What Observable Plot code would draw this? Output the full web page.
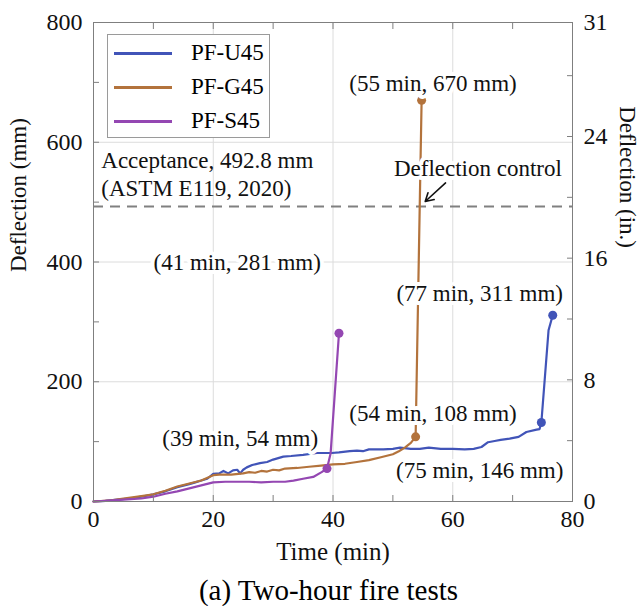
<!DOCTYPE html>
<html><head><meta charset="utf-8">
<script src="https://cdn.jsdelivr.net/npm/d3@7"></script>
<script src="https://cdn.jsdelivr.net/npm/@observablehq/plot@0.6"></script>
<style>
body{margin:0;background:#fff;font-family:"Liberation Serif","Times New Roman",serif;}
#wrap{position:relative;width:643px;}
#caption{font-size:29px;line-height:31px;height:31px;text-align:center;padding-left:14px;}
#legend{position:absolute;left:107px;top:34px;width:163px;height:104px;border:1px solid #9a9a9a;background:#fff;box-sizing:border-box;}
.row{position:absolute;left:0;height:30px;font-size:23px;line-height:30px;}
.sw{position:absolute;left:6px;top:14px;width:58px;height:3px;}
.lbl{position:absolute;left:83px;top:0;white-space:nowrap;}
</style></head>
<body>
<div id="wrap"><div id="chart"></div><div id="legend"></div></div>
<div id="caption">(a) Two-hour fire tests</div>
<script>
// ---- data ----
const seriesNames = ["PF-U45", "PF-G45", "PF-S45"];
const seriesColors = ["#4154b8", "#b3733c", "#9447b2"];

const tU45 = [0,2,4,6,8,10,12,14,16,17,18,19,20,21,21.7,22.5,23.3,24,24.5,25,25.6,26.5,27.8,29,30,31.7,33,35,37.3,39.8,41,42.8,44,45,46,48.4,50,51.2,53,54.5,56,58,60,62,63.5,64.8,65.9,67,68,69.5,71,72.3,74,74.5,74.8,76,76.7];
const mmU45 = [0,1,3,5,8,12,17,24,29,32,35,38,46,47,51,47,52,53,47,53,57,61,64,66,70,75,76,78,81,81,82,84,85,84,87,87,88,90,88,88,90,88,88,87,88,91,99,101,103,105,108,116,120,121,132,286,311];

const tG45 = [0,3,5,8,10,12,14,16,18,20,21,23,25,26,27,28,29,30,31,32,34,36,38,40,42,44,46,48,50,51,52,53,53.8,54.8];
const mmG45 = [0,2,5,9,12,18,25,30,35,44,45,45,47,49,48,51,50,53,52,55,56,58,60,62,63,66,69,74,79,84,90,98,108,670];

const tS45 = [0,2,5,8,10,12,14,16,18,20,22,24,26,28,30,32,33.4,35,36.7,38.1,39,39.6,41];
const mmS45 = [0,1,3,5,8,13,17,22,27,32,33,33,33,32,33,33,35,38,41,49,55,80,281];

// marked points
const markT = [74.8, 76.7, 53.8, 54.8, 39, 41];
const markMM = [132, 311, 108, 670, 55, 281];
const markSeries = ["PF-U45","PF-U45","PF-G45","PF-G45","PF-S45","PF-S45"];

// annotations (label anchor positions in data units)
const annoText = ["(55 min, 670 mm)","(77 min, 311 mm)","(41 min, 281 mm)","(54 min, 108 mm)","(39 min, 54 mm)","(75 min, 146 mm)","Deflection control"];
const annoT = [56.7, 64.5, 24.0, 56.7, 24.5, 64.5, 64.2];
const annoMM = [698, 347, 399, 147, 105, 52, 556];
const acceptText = ["Acceptance, 492.8 mm", "(ASTM E119, 2020)"];
const acceptTextT = [1.3, 1.3];
const acceptTextMM = [569, 522];
const acceptance = 492.8;
const arrowFrom = [58.8, 532];
const arrowTo = [55.4, 501];

const xMinor = [0,10,20,30,40,50,60,70,80];
const xLabels = [0,20,40,60,80];
const xGrid = [20,40,60];
const yMinor = [0,100,200,300,400,500,600,700,800];
const yLabels = [0,200,400,600,800];
const yGrid = [200,400,600];
const inMinor = [0,4,8,12,16,20,24,28];
const inLabels = [0,8,16,24];
const xDomain = [0,80];
const yDomain = [0,800];
const mmPerIn = 25.4;

// ---- build ----
const colorOf = Object.fromEntries(seriesNames.map((n,i)=>[n, seriesColors[i]]));
const toRows = (ts, ms) => ts.map((t,i)=>({t, mm: ms[i]}));
const marks = markT.map((t,i)=>({t, mm: markMM[i], s: markSeries[i]}));
const annos = annoText.map((s,i)=>({s, t: annoT[i], mm: annoMM[i]}));
const accepts = acceptText.map((s,i)=>({s, t: acceptTextT[i], mm: acceptTextMM[i]}));
const axisGray = "#7f7f7f";

const plot = Plot.plot({
  width: 643, height: 575,
  marginLeft: 93, marginRight: 71, marginTop: 22, marginBottom: 74,
  style: {fontFamily: "'Liberation Serif', 'Times New Roman', serif", fontSize: "24px", background: "#fff", color: "#111"},
  x: {domain: xDomain},
  y: {domain: yDomain},
  marks: [
    Plot.gridX(xGrid, {stroke: "#dcdcdc", strokeOpacity: 1}),
    Plot.gridY(yGrid, {stroke: "#dcdcdc", strokeOpacity: 1}),
    Plot.ruleY([acceptance], {stroke: "#808080", strokeWidth: 2, strokeDasharray: "10,7"}),
    Plot.line(toRows(tU45, mmU45), {x: "t", y: "mm", stroke: seriesColors[0], strokeWidth: 2.2}),
    Plot.line(toRows(tG45, mmG45), {x: "t", y: "mm", stroke: seriesColors[1], strokeWidth: 2.2}),
    Plot.line(toRows(tS45, mmS45), {x: "t", y: "mm", stroke: seriesColors[2], strokeWidth: 2.2}),
    Plot.dot(marks, {x: "t", y: "mm", r: 4.5, fill: d => colorOf[d.s], stroke: "none"}),
    Plot.text(annos, {x: "t", y: "mm", text: "s", fontSize: 23, fill: "#111", stroke: "white", strokeWidth: 8, strokeLinejoin: "round"}),
    Plot.text(accepts, {x: "t", y: "mm", text: "s", textAnchor: "start", fontSize: 23, fill: "#111"}),
    Plot.arrow([0], {x1: () => arrowFrom[0], y1: () => arrowFrom[1], x2: () => arrowTo[0], y2: () => arrowTo[1], stroke: "#111", strokeWidth: 1.6, headLength: 9}),
    Plot.frame({stroke: axisGray}),
    Plot.axisX({anchor: "bottom", ticks: xMinor, tickSize: -6, tickFormat: () => "", stroke: axisGray, label: null}),
    Plot.axisX({anchor: "top", ticks: xMinor, tickSize: -6, tickFormat: () => "", stroke: axisGray, label: null}),
    Plot.axisX({anchor: "bottom", ticks: xLabels, tickSize: 0, tickPadding: 8, fontSize: 24, label: null}),
    Plot.axisY({anchor: "left", ticks: yMinor, tickSize: -6, tickFormat: () => "", stroke: axisGray, label: null}),
    Plot.axisY({anchor: "left", ticks: yLabels, tickSize: 0, tickPadding: 11, fontSize: 24, label: null}),
    Plot.axisY({anchor: "right", ticks: inMinor.map(v => v * mmPerIn).concat([yDomain[1]]), tickSize: -6, tickFormat: () => "", stroke: axisGray, label: null}),
    Plot.axisY({anchor: "right", ticks: inLabels.map(v => v * mmPerIn).concat([yDomain[1]]), tickSize: 0, tickPadding: 11, fontSize: 24, label: null,
      tickFormat: d => String(Math.floor(d / mmPerIn + 1e-6))}),
    Plot.text(["Time (min)"], {frameAnchor: "bottom", dy: 58, fontSize: 25, fill: "#111"}),
    Plot.text(["Deflection (mm)"], {frameAnchor: "left", dx: -75, dy: 10, rotate: -90, fontSize: 23, fill: "#111"}),
    Plot.text(["Deflection (in.)"], {frameAnchor: "right", dx: 55, dy: -14, rotate: 90, fontSize: 23, fill: "#111"})
  ]
});
document.getElementById("chart").appendChild(plot);

// legend
const leg = document.getElementById("legend");
const rowTops = [3, 37, 71];
seriesNames.forEach((n, i) => {
  const r = document.createElement("div");
  r.className = "row";
  r.style.top = rowTops[i] + "px";
  r.innerHTML = `<div class="sw" style="background:${seriesColors[i]}"></div><div class="lbl">${n}</div>`;
  leg.appendChild(r);
});
</script>
</body></html>
